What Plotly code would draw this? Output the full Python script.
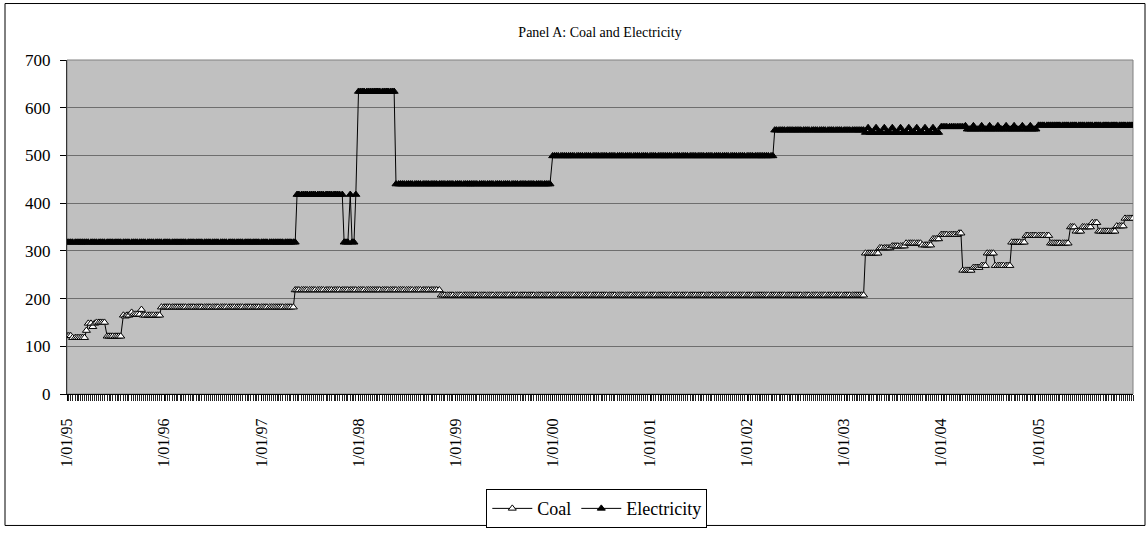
import plotly.graph_objects as go
from datetime import date

# Observation calendar: four readings per month (1st, 8th, 15th, 22nd), 1995-2005
YEARS = list(range(1995, 2006))
OBS_DAYS = [1, 8, 15, 22]
obs_dates = [date(y, m, d) for y in YEARS for m in range(1, 13) for d in OBS_DAYS]

# Year-start tick labels
tick_dates = [date(y, 1, 1) for y in YEARS]
tick_text = ["1/01/95", "1/01/96", "1/01/97", "1/01/98", "1/01/99", "1/01/00",
             "1/01/01", "1/01/02", "1/01/03", "1/01/04", "1/01/05"]

# ---- Coal prices (4 readings per month, three months per row) ----
coal_1995 = [122, 122, 122, 118, 118, 118, 118, 118, 118, 118, 133, 148,
             148, 141, 148, 150, 150, 150, 150, 150, 121, 121, 121, 121,
             121, 121, 121, 121, 165, 163, 165, 165, 171, 167, 167, 167,
             167, 177, 165, 165, 165, 165, 165, 165, 165, 165, 165, 182]
coal_1996 = [182, 182, 182, 182, 182, 182, 182, 182, 182, 182, 182, 182,
             182, 182, 182, 182, 182, 182, 182, 182, 182, 182, 182, 182,
             182, 182, 182, 182, 182, 182, 182, 182, 182, 182, 182, 182,
             182, 182, 182, 182, 182, 182, 182, 182, 182, 182, 182, 182]
coal_1997 = [182, 182, 182, 182, 182, 182, 182, 182, 182, 182, 182, 182,
             182, 182, 182, 182, 182, 218, 218, 218, 218, 218, 218, 218,
             218, 218, 218, 218, 218, 218, 218, 218, 218, 218, 218, 218,
             218, 218, 218, 218, 218, 218, 218, 218, 218, 218, 218, 218]
coal_1998 = [218, 218, 218, 218, 218, 218, 218, 218, 218, 218, 218, 218,
             218, 218, 218, 218, 218, 218, 218, 218, 218, 218, 218, 218,
             218, 218, 218, 218, 218, 218, 218, 218, 218, 218, 218, 218,
             218, 218, 218, 218, 218, 207, 207, 207, 207, 207, 207, 207]
coal_1999 = [207, 207, 207, 207, 207, 207, 207, 207, 207, 207, 207, 207,
             207, 207, 207, 207, 207, 207, 207, 207, 207, 207, 207, 207,
             207, 207, 207, 207, 207, 207, 207, 207, 207, 207, 207, 207,
             207, 207, 207, 207, 207, 207, 207, 207, 207, 207, 207, 207]
coal_2000 = [207, 207, 207, 207, 207, 207, 207, 207, 207, 207, 207, 207,
             207, 207, 207, 207, 207, 207, 207, 207, 207, 207, 207, 207,
             207, 207, 207, 207, 207, 207, 207, 207, 207, 207, 207, 207,
             207, 207, 207, 207, 207, 207, 207, 207, 207, 207, 207, 207]
coal_2001 = [207, 207, 207, 207, 207, 207, 207, 207, 207, 207, 207, 207,
             207, 207, 207, 207, 207, 207, 207, 207, 207, 207, 207, 207,
             207, 207, 207, 207, 207, 207, 207, 207, 207, 207, 207, 207,
             207, 207, 207, 207, 207, 207, 207, 207, 207, 207, 207, 207]
coal_2002 = [207, 207, 207, 207, 207, 207, 207, 207, 207, 207, 207, 207,
             207, 207, 207, 207, 207, 207, 207, 207, 207, 207, 207, 207,
             207, 207, 207, 207, 207, 207, 207, 207, 207, 207, 207, 207,
             207, 207, 207, 207, 207, 207, 207, 207, 207, 207, 207, 207]
coal_2003 = [207, 207, 207, 207, 207, 207, 207, 207, 207, 207, 207, 295,
             295, 295, 295, 295, 295, 295, 306, 306, 306, 306, 306, 306,
             310, 310, 310, 310, 310, 310, 310, 316, 316, 316, 316, 316,
             316, 316, 316, 312, 312, 312, 312, 312, 325, 325, 325, 325]
coal_2004 = [334, 334, 334, 334, 334, 334, 334, 334, 334, 337, 337, 259,
             259, 259, 259, 259, 265, 265, 265, 265, 269, 269, 269, 295,
             295, 295, 295, 269, 269, 269, 269, 269, 269, 269, 269, 318,
             318, 318, 318, 318, 318, 318, 332, 332, 332, 332, 332, 332]
coal_2005 = [332, 332, 332, 332, 332, 332, 316, 316, 316, 316, 316, 316,
             316, 316, 316, 316, 350, 350, 350, 341, 341, 341, 350, 350,
             350, 350, 350, 359, 359, 359, 341, 341, 341, 341, 341, 341,
             341, 341, 341, 352, 352, 352, 352, 368, 368, 368, 368, 368]

# ---- Electricity prices (4 readings per month, three months per row) ----
elec_1995 = [318, 318, 318, 318, 318, 318, 318, 318, 318, 318, 318, 318,
             318, 318, 318, 318, 318, 318, 318, 318, 318, 318, 318, 318,
             318, 318, 318, 318, 318, 318, 318, 318, 318, 318, 318, 318,
             318, 318, 318, 318, 318, 318, 318, 318, 318, 318, 318, 318]
elec_1996 = [318, 318, 318, 318, 318, 318, 318, 318, 318, 318, 318, 318,
             318, 318, 318, 318, 318, 318, 318, 318, 318, 318, 318, 318,
             318, 318, 318, 318, 318, 318, 318, 318, 318, 318, 318, 318,
             318, 318, 318, 318, 318, 318, 318, 318, 318, 318, 318, 318]
elec_1997 = [318, 318, 318, 318, 318, 318, 318, 318, 318, 318, 318, 318,
             318, 318, 318, 318, 318, 318, 418, 418, 418, 418, 418, 418,
             418, 418, 418, 418, 418, 418, 418, 418, 418, 418, 418, 418,
             418, 418, 418, 418, 418, 318, 318, 318, 418, 318, 318, 418]
elec_1998 = [634, 634, 634, 634, 634, 634, 634, 634, 634, 634, 634, 634,
             634, 634, 634, 634, 634, 634, 634, 440, 440, 440, 440, 440,
             440, 440, 440, 440, 440, 440, 440, 440, 440, 440, 440, 440,
             440, 440, 440, 440, 440, 440, 440, 440, 440, 440, 440, 440]
elec_1999 = [440, 440, 440, 440, 440, 440, 440, 440, 440, 440, 440, 440,
             440, 440, 440, 440, 440, 440, 440, 440, 440, 440, 440, 440,
             440, 440, 440, 440, 440, 440, 440, 440, 440, 440, 440, 440,
             440, 440, 440, 440, 440, 440, 440, 440, 440, 440, 440, 440]
elec_2000 = [499, 499, 499, 499, 499, 499, 499, 499, 499, 499, 499, 499,
             499, 499, 499, 499, 499, 499, 499, 499, 499, 499, 499, 499,
             499, 499, 499, 499, 499, 499, 499, 499, 499, 499, 499, 499,
             499, 499, 499, 499, 499, 499, 499, 499, 499, 499, 499, 499]
elec_2001 = [499, 499, 499, 499, 499, 499, 499, 499, 499, 499, 499, 499,
             499, 499, 499, 499, 499, 499, 499, 499, 499, 499, 499, 499,
             499, 499, 499, 499, 499, 499, 499, 499, 499, 499, 499, 499,
             499, 499, 499, 499, 499, 499, 499, 499, 499, 499, 499, 499]
elec_2002 = [499, 499, 499, 499, 499, 499, 499, 499, 499, 499, 499, 499,
             499, 499, 553, 553, 553, 553, 553, 553, 553, 553, 553, 553,
             553, 553, 553, 553, 553, 553, 553, 553, 553, 553, 553, 553,
             553, 553, 553, 553, 553, 553, 553, 553, 553, 553, 553, 553]
elec_2003 = [553, 553, 553, 553, 553, 553, 553, 553, 553, 553, 553, 548,
             558, 548, 548, 548, 558, 548, 548, 548, 558, 548, 548, 548,
             558, 548, 548, 548, 558, 548, 548, 548, 558, 548, 548, 548,
             558, 548, 548, 548, 558, 548, 548, 548, 558, 548, 548, 548]
elec_2004 = [560, 560, 560, 560, 560, 560, 560, 560, 560, 560, 560, 560,
             562, 555, 555, 555, 562, 555, 555, 555, 562, 555, 555, 555,
             562, 555, 555, 555, 562, 555, 555, 555, 562, 555, 555, 555,
             562, 555, 555, 555, 562, 555, 555, 555, 562, 555, 555, 555]
elec_2005 = [563, 563, 563, 563, 563, 563, 563, 563, 563, 563, 563, 563,
             563, 563, 563, 563, 563, 563, 563, 563, 563, 563, 563, 563,
             563, 563, 563, 563, 563, 563, 563, 563, 563, 563, 563, 563,
             563, 563, 563, 563, 563, 563, 563, 563, 563, 563, 563, 563]

coal = (coal_1995 + coal_1996 + coal_1997 + coal_1998 + coal_1999 + coal_2000
        + coal_2001 + coal_2002 + coal_2003 + coal_2004 + coal_2005)
electricity = (elec_1995 + elec_1996 + elec_1997 + elec_1998 + elec_1999 + elec_2000
               + elec_2001 + elec_2002 + elec_2003 + elec_2004 + elec_2005)

SERIF = "Liberation Serif, Times New Roman, serif"

fig = go.Figure()
fig.add_trace(go.Scatter(
    x=obs_dates, y=coal, name="Coal", mode="lines+markers",
    line=dict(color="black", width=1),
    marker=dict(symbol="triangle-up", size=7, color="white",
                line=dict(color="black", width=1)),
))
fig.add_trace(go.Scatter(
    x=obs_dates, y=electricity, name="Electricity", mode="lines+markers",
    line=dict(color="black", width=1),
    marker=dict(symbol="triangle-up", size=7, color="black",
                line=dict(color="black", width=1)),
))

fig.update_layout(
    width=1147, height=540,
    margin=dict(l=67, r=14, t=60, b=137),
    paper_bgcolor="white",
    plot_bgcolor="#c0c0c0",
    font=dict(family=SERIF, size=16, color="black"),
    title=dict(text="Panel A: Coal and Electricity", x=0.5, xref="paper",
               y=1 - 32 / 540, yanchor="middle", font=dict(size=14)),
    showlegend=True,
    legend=dict(orientation="h", x=0.497, xanchor="center", y=-0.285, yanchor="top",
                bgcolor="white", bordercolor="black", borderwidth=1,
                font=dict(size=18), itemwidth=40, tracegroupgap=0),
    xaxis=dict(
        type="date",
        range=[obs_dates[0], obs_dates[-1]],
        tickmode="array", tickvals=tick_dates, ticktext=tick_text,
        tickangle=-90, ticks="outside", ticklen=6, tickcolor="black",
        ticklabelstandoff=11, tickfont=dict(size=16),
        minor=dict(tickmode="array", tickvals=obs_dates, ticks="outside",
                   ticklen=6, tickcolor="#222222", tickwidth=1, showgrid=False),
        showgrid=False, showline=True, linecolor="black", linewidth=1,
        zeroline=False,
    ),
    yaxis=dict(
        range=[0, 700], dtick=100, tick0=0,
        ticks="outside", ticklen=6, tickcolor="black",
        ticklabelstandoff=6, tickfont=dict(size=17),
        showgrid=True, gridcolor="#6e6e6e", gridwidth=1,
        showline=True, linecolor="#333333", linewidth=1,
        zeroline=False,
    ),
    shapes=[
        # plot-area frame
        dict(type="rect", xref="paper", yref="paper", x0=0, x1=1, y0=0, y1=1,
             line=dict(color="#808080", width=1), layer="below"),
        # outer chart frame
        dict(type="rect", xref="paper", yref="paper",
             x0=(5 - 67) / 1066, x1=(1145 - 67) / 1066,
             y0=(403 - 538) / 343, y1=(403 - 2) / 343,
             line=dict(color="black", width=1)),
    ],
)

fig.write_html("out.html")
